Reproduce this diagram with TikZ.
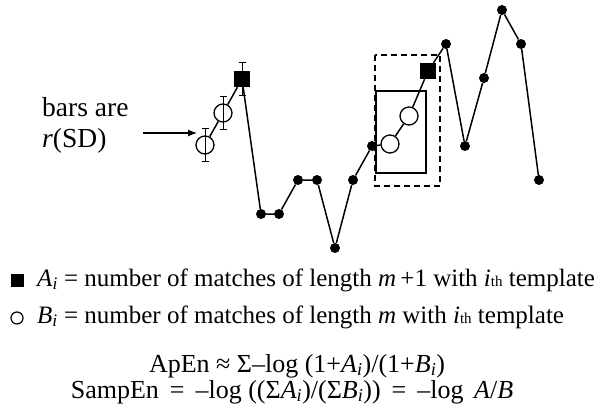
\documentclass[tikz,border=0pt]{standalone}
\usepackage{fontspec}
\setmainfont{Liberation Serif}
\usetikzlibrary{arrows.meta,positioning}

\newcommand{\iv}[2]{\textit{#1}\textsubscript{\textit{#2}}}
\newcommand{\eqs}{\hspace{11pt}=\hspace{11pt}}

\begin{document}
\begin{tikzpicture}[
    x=1pt, y=-1pt,
    font=\fontsize{25}{30}\selectfont,
    dot/.style={circle, fill=black, inner sep=0pt, minimum size=10pt},
    ring/.style={circle, draw=black, line width=1.3pt, inner sep=0pt, minimum size=18pt},
    blk/.style={rectangle, fill=black, inner sep=0pt, minimum size=16pt},
    link/.style={line width=1.5pt},
    errbar/.style={line width=1pt, {Bar[width=7pt]}-{Bar[width=7pt]}},
    pointer/.style={line width=1.2pt, -{Latex[length=9pt,width=7pt]}},
    window/.style={draw=black, line width=1.3pt},
    formula/.style={anchor=base, inner sep=0pt, font=\fontsize{26}{30}\selectfont}
]
    \useasboundingbox (0,0) rectangle (601,414);

    % Template windows
    \draw[window, dash pattern=on 6pt off 4pt] (375,55) rectangle (440,186);
    \draw[window] (376,91) rectangle (426,173);

    % Series points
    \node[ring] (r1) at (205,145) {};
    \node[ring] (r2) at (223,113) {};
    \node[blk] (s1) at (242,79) {};
    \foreach \n/\x/\y in {d1/261/214, d2/279/214, d3/298/180, d4/317/180,
        d5/335/248, d6/353/180, d7/372/146, d8/446/44, d9/465/146,
        d10/484/78, d11/502/10, d12/521/44, d13/539/180}
        \node[dot] (\n) at (\x,\y) {};
    \node[ring, fill=white] (r3) at (390,144) {};
    \node[ring, fill=white] (r4) at (409,116) {};
    \node[blk] (s2) at (428,71) {};

    % Connections
    \draw[link] (r1) -- (r2) -- (s1) -- (d1) -- (d2) -- (d3) -- (d4) -- (d5)
        -- (d6) -- (d7) -- (r3) -- (r4) -- (s2) -- (d8) -- (d9) -- (d10)
        -- (d11) -- (d12) -- (d13);

    % Error bars
    \foreach \p in {r1, r2, s1}
        \draw[errbar] ([yshift=17pt]\p.center) -- ([yshift=-17pt]\p.center);

    % Note on the bars
    \node[align=left, anchor=base west, inner sep=0pt, font=\fontsize{27.5}{31}\selectfont] (note) at (42,147) {bars are\\\textit{r}(SD)};
    \coordinate (tail) at (143,133);
    \coordinate (head) at (197,133);
    \draw[pointer] (tail) -- (head);

    % Legend
    \node[blk, minimum size=13pt] (keyA) at (17,280) {};
    \node[circle, draw=black, line width=1.2pt, inner sep=0pt, minimum size=12pt] (keyB) at (17,318) {};
    \node[anchor=base west, inner sep=0pt] (textA) at (37,286)
        {\iv{A}{i} = number of matches of length \textit{m}\,+1 with \textit{i}{\fontsize{15}{18}\selectfont th} template};
    \node[anchor=base west, inner sep=0pt] (textB) at (37,323)
        {\iv{B}{i} = number of matches of length \textit{m} with \textit{i}{\fontsize{15}{18}\selectfont th} template};

    % Formulas
    \node[formula] (apen) at (297,372)
        {ApEn ≈ Σ–log (1+\iv{A}{i})/(1+\iv{B}{i})};
    \node[formula] (sampen) at (292,398)
        {SampEn\eqs–log ((Σ\iv{A}{i})/(Σ\iv{B}{i}))\eqs–log\hspace{4pt} \textit{A}/\textit{B}};
\end{tikzpicture}
\end{document}
